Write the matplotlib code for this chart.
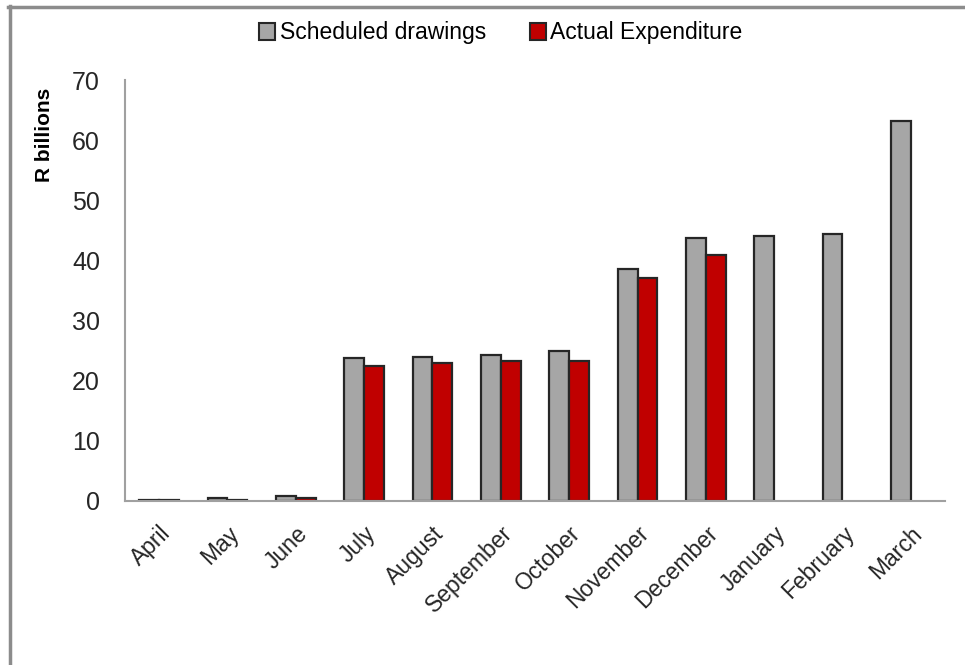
import matplotlib
matplotlib.use("Agg")
import matplotlib.pyplot as plt
import numpy as np
from matplotlib.lines import Line2D
from matplotlib.patches import Patch

plt.rcParams['font.family'] = ['Liberation Sans', 'DejaVu Sans']

months = ["April", "May", "June", "July", "August", "September", "October",
          "November", "December", "January", "February", "March"]
scheduled = [0.2, 0.5, 0.9, 23.7, 24.0, 24.3, 24.9, 38.6, 43.8, 44.1, 44.4, 63.2]
actual = [0.2, 0.2, 0.5, 22.4, 23.0, 23.3, 23.3, 37.0, 40.9, np.nan, np.nan, np.nan]
yticks = [0, 10, 20, 30, 40, 50, 60, 70]

gray = "#A6A6A6"
red = "#C00000"
edge = "#262626"

fig = plt.figure(figsize=(9.65, 6.65), dpi=100)
ax = fig.add_axes([125/965, 1-501/665, 820/965, 421/665])

x = np.arange(len(months))
w = 0.29
ax.bar(x - w/2, scheduled, w, color=gray, edgecolor=edge, linewidth=1.6)
act = np.array([0 if np.isnan(v) else v for v in actual])
mask = np.array([not np.isnan(v) for v in actual])
ax.bar(x[mask] + w/2, act[mask], w, color=red, edgecolor=edge, linewidth=1.6)

ax.set_xlim(-0.5, len(months) - 0.5)
ax.set_ylim(0, 70)
ax.set_yticks(yticks)
ax.set_yticklabels([str(t) for t in yticks], fontsize=18, color="#262626")
ax.set_xticks(x)
ax.set_xticklabels(months, fontsize=16.5, color="#262626")
for lab in ax.get_xticklabels():
    lab.set_rotation(45)
    lab.set_ha('right')
    lab.set_va('top')
    lab.set_rotation_mode('anchor')
ax.tick_params(axis='y', length=0, pad=18)
ax.tick_params(axis='x', length=0, pad=15)

for s in ['top', 'right']:
    ax.spines[s].set_visible(False)
for s in ['left', 'bottom']:
    ax.spines[s].set_color("#A0A0A0")
    ax.spines[s].set_linewidth(1.5)

ax.set_ylabel("R billions", fontsize=15, fontweight='bold')
ax.yaxis.set_label_coords(-0.087, 0.869)

handles = [Patch(facecolor=gray, edgecolor=edge, linewidth=1.5),
           Patch(facecolor=red, edgecolor=edge, linewidth=1.5)]
fig.legend(handles, ["Scheduled drawings", "Actual Expenditure"], loc='center',
           bbox_to_anchor=(501/965, 1-33/665), ncol=2, frameon=False,
           fontsize=16.5, handlelength=0.7, handleheight=0.7, handletextpad=0.2,
           columnspacing=1.9)

# outer border (top and left visible)
fig.add_artist(Line2D([9.5/965, 9.5/965], [0, 1-6/665], transform=fig.transFigure,
                      color="#8C8C8C", linewidth=2.5))
fig.add_artist(Line2D([8/965, 1], [1-6.5/665, 1-6.5/665], transform=fig.transFigure,
                      color="#8C8C8C", linewidth=2.5))

fig.savefig("out.png", dpi=100)
